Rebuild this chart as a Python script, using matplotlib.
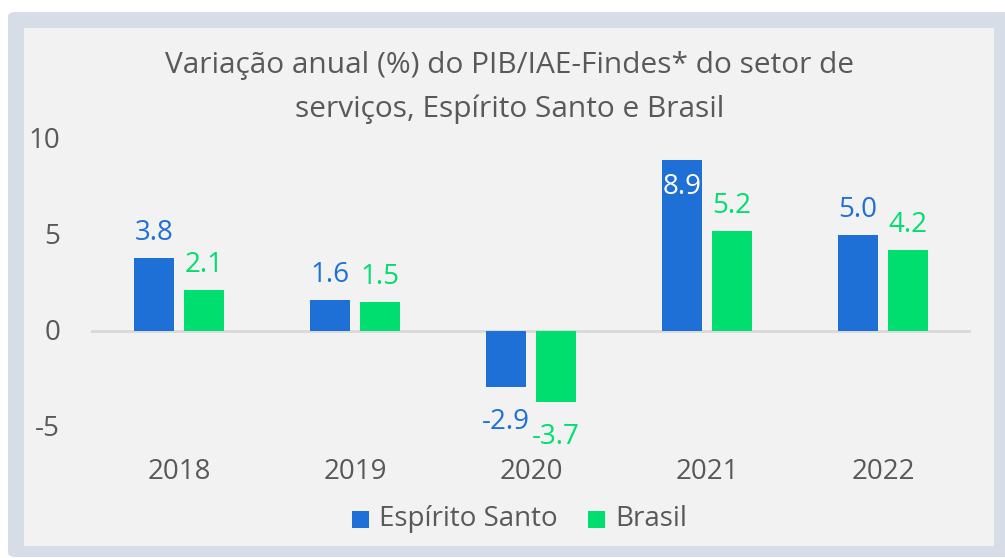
import matplotlib
matplotlib.use("Agg")
import matplotlib.pyplot as plt
from matplotlib.patches import FancyBboxPatch, Rectangle
import numpy as np

years = ["2018", "2019", "2020", "2021", "2022"]
espirito_santo = [3.8, 1.6, -2.9, 8.9, 5.0]
brasil = [2.1, 1.5, -3.7, 5.2, 4.2]
series_names = ["Espírito Santo", "Brasil"]
title_lines = ["Variação anual (%) do PIB/IAE-Findes* do setor de",
               "serviços, Espírito Santo e Brasil"]
yticks = [-5, 0, 5, 10]

BLUE = "#1F70D6"
GREEN = "#00DE70"
TXT = "#595959"
FONT = "Open Sans"
FS = 20
TFS = 21.5

plt.rcParams["font.family"] = [FONT, "DejaVu Sans"]

W, H = 1005, 558
fig = plt.figure(figsize=(W / 100, H / 100), dpi=100)
fig.patch.set_facecolor("white")

def fx(x):
    return x / W

def fy(y):
    return 1 - y / H

# outer frame
frame = FancyBboxPatch((fx(8), fy(557)), fx(1005 + 10 - 8), fy(12) - fy(557),
                       boxstyle="round,pad=0,rounding_size=0.008",
                       transform=fig.transFigure, facecolor="#D6DDE6",
                       edgecolor="none", zorder=-2)
fig.patches.append(frame)
inner = Rectangle((fx(24), fy(546)), fx(994) - fx(24), fy(28) - fy(546),
                  transform=fig.transFigure, facecolor="#F2F2F2",
                  edgecolor="none", zorder=-1)
fig.patches.append(inner)

ax = fig.add_axes([fx(91), fy(427), fx(971) - fx(91), fy(138.5) - fy(427)])
ax.set_facecolor("none")
ax.set_xlim(-0.5, len(years) - 0.5)
ax.set_ylim(-5, 10)

x = np.arange(len(years))
bw = 40 / 176
gap = 10 / 176
off = (bw + gap) / 2
b1 = ax.bar(x - off, espirito_santo, bw, color=BLUE, zorder=3)
b2 = ax.bar(x + off, brasil, bw, color=GREEN, zorder=3)

ax.axhline(0, color="#D9D9D9", lw=2, zorder=2)

for sp in ax.spines.values():
    sp.set_visible(False)
ax.set_xticks([])
ax.set_yticks([])

# y tick labels
for v in yticks:
    fig.text(fx(60), ax.transData.transform((0, v))[1] / H - 2 / H, str(v),
             ha="right", va="center", fontsize=FS, color=TXT)

# year labels
for i, yr in enumerate(years):
    px = ax.transData.transform((i, 0))[0]
    fig.text(px / W, fy(472), yr, ha="center", va="center",
             fontsize=FS, color=TXT)

# data labels
for vals, xs, col in [(espirito_santo, x - off, BLUE), (brasil, x + off, GREEN)]:
    for xi, v in zip(xs, vals):
        label = f"{v:.1f}"
        if v > 8:
            ax.annotate(label, (xi, v), xytext=(0, -13), textcoords="offset pixels",
                        ha="center", va="top", fontsize=FS, color="white",
                        zorder=5, annotation_clip=False)
        elif v >= 0:
            ax.annotate(label, (xi, v), xytext=(0, 11), textcoords="offset pixels",
                        ha="center", va="bottom", fontsize=FS, color=col,
                        annotation_clip=False)
        else:
            ax.annotate(label, (xi, v), xytext=(0, -21), textcoords="offset pixels",
                        ha="center", va="top", fontsize=FS, color=col,
                        annotation_clip=False)

# title
fig.text(fx(510), fy(66), title_lines[0], ha="center", va="center",
         fontsize=TFS, color=TXT)
fig.text(fx(510), fy(109), title_lines[1], ha="center", va="center",
         fontsize=TFS, color=TXT)

# legend
leg_items = [(fx(352), BLUE, series_names[0]), (fx(588), GREEN, series_names[1])]
for lx, col, name in leg_items:
    fig.patches.append(Rectangle((lx, fy(528)), fx(17), fy(511) - fy(528),
                                 transform=fig.transFigure, facecolor=col,
                                 edgecolor="none", zorder=3))
    fig.text(lx + fx(27), fy(519), name, ha="left", va="center",
             fontsize=FS, color=TXT)

fig.savefig("out.png", dpi=100, facecolor="white")
